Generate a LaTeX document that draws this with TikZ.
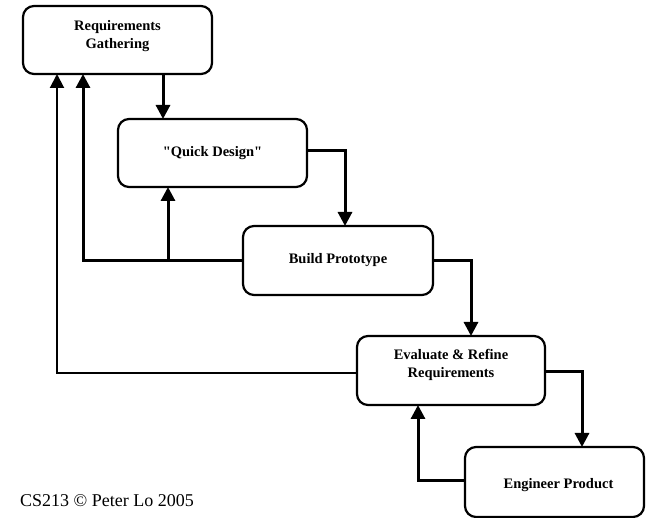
\documentclass[tikz,border=0pt]{standalone}
\usepackage{fontspec}
\setmainfont{Liberation Serif}
\usetikzlibrary{arrows.meta}
\begin{document}
\begin{tikzpicture}[x=1pt,y=-1pt,
  box/.style={draw,line width=2.2pt,rounded corners=11pt},
  lbl/.style={font=\bfseries\fontsize{14.5}{18}\selectfont,align=center},
  conn/.style={line width=3pt,-{Triangle[length=14pt,width=14pt]}}]
\useasboundingbox (0,0) rectangle (646,518);
\draw[box] (23,6) rectangle (212,74);
\node[lbl] (rg) at (117.5,36) {Requirements\\Gathering};
\draw[box] (118,119) rectangle (307,187);
\node[lbl] (qd) at (212.5,153) {\addfontfeatures{Ligatures=TeXOff}"Quick Design"};
\draw[box] (243,226) rectangle (433,295);
\node[lbl] (bp) at (338,260) {Build Prototype};
\draw[box] (357,336) rectangle (545,405);
\node[lbl] (ev) at (451,365) {Evaluate \& Refine\\Requirements};
\draw[box] (465,447) rectangle (644,517);
\node[lbl] (ep) at (558.5,485) {Engineer Product};
\node[anchor=base west,font=\fontsize{18}{20}\selectfont,inner sep=0pt] (cr) at (20,507) {CS213 © Peter Lo 2005};
% connectors
\coordinate (a1) at (163,74); \coordinate (a2) at (163,119);
\draw[conn] (a1) -- (a2);
\coordinate (b1) at (307,151); \coordinate (b2) at (345,226);
\draw[conn] (b1) -| (b2);
\coordinate (c1) at (433,261); \coordinate (c2) at (471,336);
\draw[conn] (c1) -| (c2);
\coordinate (d1) at (545,372); \coordinate (d2) at (582,447);
\draw[conn] (d1) -| (d2);
\coordinate (e1) at (465,481); \coordinate (e2) at (418,405);
\draw[conn] (e1) -| (e2);
\coordinate (f1) at (357,373); \coordinate (f2) at (57,74);
\draw[conn,line width=2pt] (f1) -| (f2);
\coordinate (g1) at (243,261); \coordinate (g2) at (83,74);
\draw[conn] (g1) -| (g2);
\coordinate (h1) at (168,261); \coordinate (h2) at (168,187);
\draw[conn] (h1) -- (h2);
\end{tikzpicture}
\end{document}
